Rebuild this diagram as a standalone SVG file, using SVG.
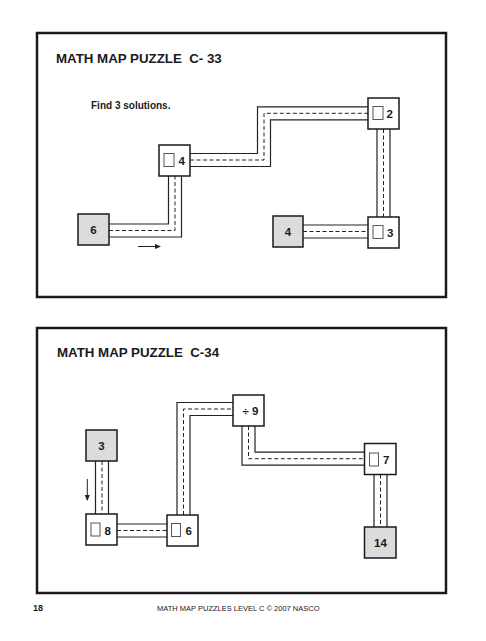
<svg xmlns="http://www.w3.org/2000/svg" width="486" height="641" viewBox="0 0 486 641">
<style>
.frame{fill:none;stroke:#1a1a1a;stroke-width:2.5}
.title{font-family:"Liberation Sans",Arial,sans-serif;font-weight:bold;font-size:13.3px;fill:#1a1a1a}
.sub{font-family:"Liberation Sans",Arial,sans-serif;font-weight:bold;font-size:10px;fill:#1a1a1a}
.foot{font-family:"Liberation Sans",Arial,sans-serif;font-size:7.5px;fill:#1a1a1a}
.footb{font-family:"Liberation Sans",Arial,sans-serif;font-weight:bold;font-size:9px;fill:#1a1a1a}
.box{fill:#fff;stroke:#1a1a1a;stroke-width:1.5}
.start{fill:#dcdcdc;stroke:#1a1a1a;stroke-width:1.5}
.sq{fill:#fff;stroke:#555;stroke-width:1}
.num{font-family:"Liberation Sans",Arial,sans-serif;font-weight:bold;font-size:11.5px;fill:#1a1a1a}
.c-out{fill:none;stroke:#222;stroke-width:14.2;stroke-linejoin:miter}
.c-in{fill:none;stroke:#fff;stroke-width:11.8;stroke-linejoin:miter}
.c-dash{fill:none;stroke:#222;stroke-width:1;stroke-dasharray:4 2.5}
.arrow{stroke:#222;stroke-width:1;fill:none;marker-end:url(#ah)}
</style>
<defs>
<marker id="ah" markerWidth="6" markerHeight="6" refX="5" refY="3" orient="auto" markerUnits="userSpaceOnUse">
<path d="M0,0.5 L6,3 L0,5.5 Z" fill="#222"/>
</marker>
</defs>
<rect width="486" height="641" fill="#fff"/>
<rect class="frame" x="37" y="33" width="409" height="264"/>
<rect class="frame" x="37" y="328" width="409" height="265"/>
<text class="title" x="56" y="63">MATH MAP PUZZLE&#160; C- 33</text>
<text class="sub" x="91" y="109">Find 3 solutions.</text>
<text class="title" x="57" y="357">MATH MAP PUZZLE&#160; C-34</text>
<text class="footb" x="33" y="611">18</text>
<text class="foot" x="157" y="611">MATH MAP PUZZLES LEVEL C © 2007 NASCO</text>
<g id="connectors">
<path class="c-out" d="M93 230.5 H175 V160"/>
<path class="c-in" d="M93 230.5 H175 V160"/>
<path class="c-dash" d="M109 230.5 H175 V176"/>
<path class="c-out" d="M175 160 H264 V113.3 H383.5"/>
<path class="c-in" d="M175 160 H264 V113.3 H383.5"/>
<path class="c-dash" d="M190 160 H264 V113.3 H368"/>
<path class="c-out" d="M383.5 113 V232"/>
<path class="c-in" d="M383.5 113 V232"/>
<path class="c-dash" d="M383.5 129 V217"/>
<path class="c-out" d="M288 231.5 H383.5"/>
<path class="c-in" d="M288 231.5 H383.5"/>
<path class="c-dash" d="M303 231.5 H368"/>
<line class="arrow" x1="138" y1="246.5" x2="160" y2="246.5"/>
<path class="c-out" d="M102 445 V530"/>
<path class="c-in" d="M102 445 V530"/>
<path class="c-dash" d="M102 461 V514"/>
<path class="c-out" d="M101.5 530.5 H183"/>
<path class="c-in" d="M101.5 530.5 H183"/>
<path class="c-dash" d="M117 530.5 H167"/>
<path class="c-out" d="M183.5 530 V409 H248.5"/>
<path class="c-in" d="M183.5 530 V409 H248.5"/>
<path class="c-dash" d="M183.5 515 V409 H233"/>
<path class="c-out" d="M248.5 410 V458.7 H380.5"/>
<path class="c-in" d="M248.5 410 V458.7 H380.5"/>
<path class="c-dash" d="M248.5 426 V458.7 H364.5"/>
<path class="c-out" d="M380.5 459 V542"/>
<path class="c-in" d="M380.5 459 V542"/>
<path class="c-dash" d="M380.5 474.5 V527"/>
<line class="arrow" x1="87.3" y1="479" x2="87.3" y2="500"/>
</g>
<g id="p1-start6"><rect class="start" x="78" y="214" width="31" height="31"/><text class="num" x="93.5" y="233.8" text-anchor="middle">6</text></g>
<g id="p1-node4"><rect class="box" x="159" y="145" width="31" height="31"/><rect class="sq" x="164" y="153.5" width="10" height="13"/><text class="num" x="178.5" y="164.5">4</text></g>
<g id="p1-node2"><rect class="box" x="368" y="98" width="31" height="31"/><rect class="sq" x="373" y="106.5" width="10" height="13"/><text class="num" x="386.5" y="117.5">2</text></g>
<g id="p1-start4"><rect class="start" x="273" y="216" width="30" height="31"/><text class="num" x="288" y="235.8" text-anchor="middle">4</text></g>
<g id="p1-node3"><rect class="box" x="368" y="217" width="31" height="31"/><rect class="sq" x="373" y="225.5" width="10" height="13"/><text class="num" x="387" y="236.5">3</text></g>
<g id="p2-start3"><rect class="start" x="86" y="430" width="31" height="31"/><text class="num" x="101.5" y="449.8" text-anchor="middle">3</text></g>
<g id="p2-node8"><rect class="box" x="86" y="514" width="31" height="31"/><rect class="sq" x="91" y="523" width="9" height="13"/><text class="num" x="104.5" y="534.5">8</text></g>
<g id="p2-node6"><rect class="box" x="167" y="515" width="31" height="31"/><rect class="sq" x="171.5" y="523.5" width="9" height="13"/><text class="num" x="185.5" y="535">6</text></g>
<g id="p2-node9"><rect class="box" x="233" y="395" width="31" height="31"/><text class="num" x="250.5" y="414.5" text-anchor="middle">÷ 9</text></g>
<g id="p2-node7"><rect class="box" x="364.5" y="443.5" width="31.5" height="31"/><rect class="sq" x="369.5" y="453" width="9" height="13"/><text class="num" x="383" y="463.5">7</text></g>
<g id="p2-end14"><rect class="start" x="364.5" y="527" width="31.5" height="31"/><text class="num" x="380.5" y="546.5" text-anchor="middle">14</text></g>
</svg>
